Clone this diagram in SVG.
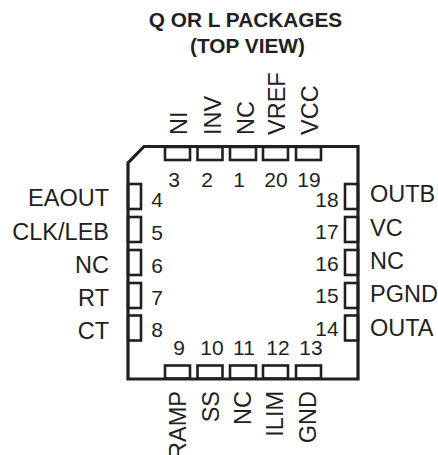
<svg xmlns="http://www.w3.org/2000/svg" width="438" height="455" viewBox="0 0 438 455">
<style>
text{font-family:"Liberation Sans",Arial,sans-serif;font-size:23.500px;fill:#231f20}
.t{font-weight:bold;font-size:20.800px;text-anchor:middle}
.n{font-size:21px;text-anchor:middle}
.l{text-anchor:end}
.v{text-anchor:start}
.b{text-anchor:end}
.pad{fill:#fff;stroke:#231f20;stroke-width:2.600}
.body{fill:none;stroke:#231f20;stroke-width:3.200}
</style>
<g id="title">
<text class="t" x="245.500" y="27">Q OR L PACKAGES</text>
<text class="t" x="247.500" y="53">(TOP VIEW)</text>
</g>
<g id="package">
<rect class="pad" x="165" y="147" width="25" height="13"/>
<rect class="pad" x="197.500" y="147" width="25" height="13"/>
<rect class="pad" x="230" y="147" width="26" height="13"/>
<rect class="pad" x="263" y="147" width="25" height="13"/>
<rect class="pad" x="296" y="147" width="25" height="13"/>
<rect class="pad" x="165" y="365.500" width="25" height="13"/>
<rect class="pad" x="197.500" y="365.500" width="25" height="13"/>
<rect class="pad" x="230" y="365.500" width="26" height="13"/>
<rect class="pad" x="263" y="365.500" width="25" height="13"/>
<rect class="pad" x="296" y="365.500" width="25" height="13"/>
<rect class="pad" x="128" y="184" width="13" height="25"/>
<rect class="pad" x="128" y="217" width="13" height="25"/>
<rect class="pad" x="128" y="250" width="13" height="25"/>
<rect class="pad" x="128" y="283" width="13" height="25"/>
<rect class="pad" x="128" y="315.500" width="13" height="25"/>
<rect class="pad" x="345" y="184" width="13" height="25"/>
<rect class="pad" x="345" y="217" width="13" height="25"/>
<rect class="pad" x="345" y="250" width="13" height="25"/>
<rect class="pad" x="345" y="283" width="13" height="25"/>
<rect class="pad" x="345" y="315.500" width="13" height="25"/>
<path class="body" d="M144 146.500H358V379H128V163Z"/>
</g>
<g id="pin-numbers">
<text class="n" x="174" y="187">3</text>
<text class="n" x="207" y="187">2</text>
<text class="n" x="239" y="187">1</text>
<text class="n" x="276" y="187">20</text>
<text class="n" x="309" y="187">19</text>
<text class="n" x="327" y="207">18</text>
<text class="n" x="327" y="239">17</text>
<text class="n" x="327" y="271">16</text>
<text class="n" x="327" y="303">15</text>
<text class="n" x="327" y="336">14</text>
<text class="n" x="157" y="207">4</text>
<text class="n" x="157" y="240">5</text>
<text class="n" x="157" y="273">6</text>
<text class="n" x="157" y="305">7</text>
<text class="n" x="157" y="337">8</text>
<text class="n" x="179" y="355">9</text>
<text class="n" x="212" y="355">10</text>
<text class="n" x="244" y="355">11</text>
<text class="n" x="278" y="355">12</text>
<text class="n" x="311" y="355">13</text>
</g>
<g id="pin-labels">
<text class="l" x="109" y="206">EAOUT</text>
<text class="l" x="109" y="240">CLK/LEB</text>
<text class="l" x="109" y="273">NC</text>
<text class="l" x="109" y="306">RT</text>
<text class="l" x="109" y="339">CT</text>
<text x="370" y="202">OUTB</text>
<text x="370" y="236">VC</text>
<text x="370" y="269">NC</text>
<text x="370" y="302">PGND</text>
<text x="370" y="336">OUTA</text>
<text class="v" transform="translate(186.500 135) rotate(-90)">NI</text>
<text class="v" transform="translate(220.500 135) rotate(-90)">INV</text>
<text class="v" transform="translate(254 135) rotate(-90)">NC</text>
<text class="v" transform="translate(284.500 135) rotate(-90)">VREF</text>
<text class="v" transform="translate(318 135) rotate(-90)">VCC</text>
<text class="b" transform="translate(186 391) rotate(-90)">RAMP</text>
<text class="b" transform="translate(219 391) rotate(-90)">SS</text>
<text class="b" transform="translate(251 391) rotate(-90)">NC</text>
<text class="b" transform="translate(283 391) rotate(-90)">ILIM</text>
<text class="b" transform="translate(316 391) rotate(-90)">GND</text>
</g>
</svg>
